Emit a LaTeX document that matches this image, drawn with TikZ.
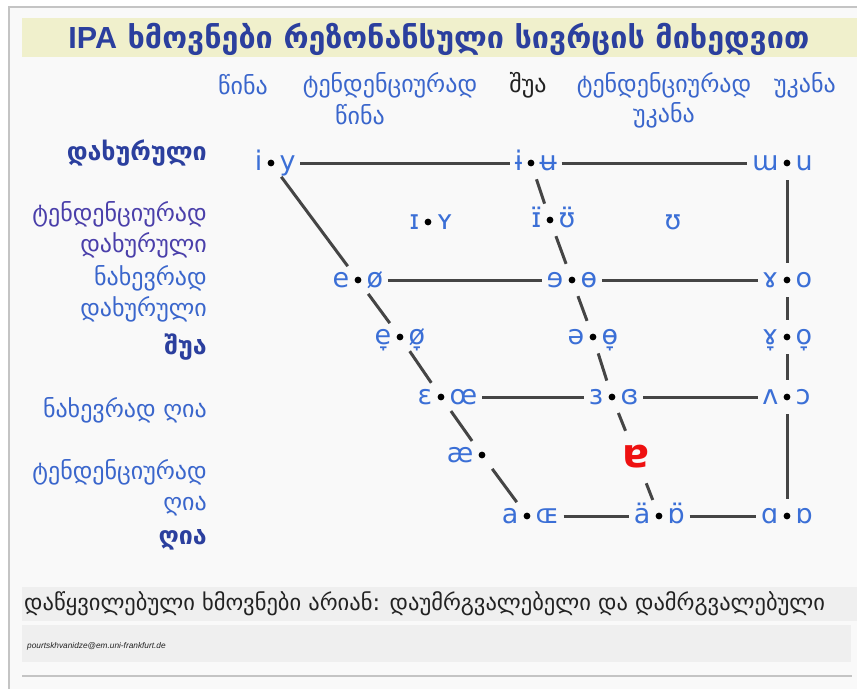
\documentclass[tikz,border=0pt]{standalone}
\usepackage{fontspec}
\setmainfont{DejaVu Sans}
\newfontfamily\latinfont{Liberation Sans}
\usetikzlibrary{calc}

\definecolor{linkblue}{HTML}{3A66CC}
\definecolor{darkblue}{HTML}{2B3F9E}
\definecolor{purpleblue}{HTML}{4A3FAA}
\definecolor{vowelblue}{HTML}{3B6FD6}
\definecolor{edgegray}{HTML}{454545}
\definecolor{titlebg}{HTML}{F0F0CC}
\definecolor{pagebg}{HTML}{F9F9F9}
\definecolor{footbg}{HTML}{EFEFEF}
\definecolor{framegray}{HTML}{C4C4C4}
\definecolor{textdark}{HTML}{222222}
\definecolor{openred}{HTML}{EE1111}

\tikzset{
  vowel/.style={font=\fontsize{27}{30}\selectfont, text=vowelblue, inner xsep=1.5pt, inner ysep=0pt,
    text height=21.6pt, text depth=6.8pt},
  dotnode/.style={circle, minimum size=34pt, inner sep=0pt,
    path picture={\fill[black] (path picture bounding box.center) circle (3.4pt);}},
  edge/.style={draw=edgegray, line width=3pt},
  hedge/.style={edge, shorten >=3pt, shorten <=3pt},
  rowlabel/.style={anchor=east, align=right, inner sep=0pt, text=linkblue,
    font=\fontsize{24}{31}\selectfont},
  rowhead/.style={rowlabel, text=darkblue, font=\bfseries\fontsize{25}{31}\selectfont},
  colhead/.style={align=center, inner sep=0pt, text=linkblue,
    font=\fontsize{24}{30}\selectfont},
}

\newcommand\vpair[5]{%
  \node[dotnode] (#1) at (#2,#3) {};
  \node[vowel, anchor=east] (#1-l) at ([xshift=-7pt]#1.center) {#4};
  \node[vowel, anchor=west] (#1-r) at ([xshift=7pt]#1.center) {#5};
}

\begin{document}
\begin{tikzpicture}[x=1pt,y=-1pt]
  \useasboundingbox (0,0) rectangle (857,689);
  % page and frame
  \fill[white] (0,0) rectangle (857,689);
  \fill[pagebg] (9,7) rectangle (857,689);
  \draw[framegray, line width=1.6pt] (9,689) -- (9,7) -- (857,7);
  \fill[titlebg] (22,18) rectangle (857,57);
  \node[inner sep=0pt, text=darkblue, font=\bfseries\fontsize{30.5}{34}\selectfont]
    (title) at (439,39) {{\latinfont IPA} ხმოვნები რეზონანსული სივრცის მიხედვით};

  % column headers
  \node[colhead] (c1) at (243,85) {წინა};
  \node[colhead] (c2) at (390,85) {ტენდენციურად};
  \node[colhead] (c2b) at (360,115) {წინა};
  \node[colhead, text=textdark] (c3) at (528,85) {შუა};
  \node[colhead] (c4) at (664,85) {ტენდენციურად};
  \node[colhead] (c4b) at (664,115) {უკანა};
  \node[colhead] (c5) at (805,85) {უკანა};

  % row labels
  \node[rowhead] (r1) at (207,153) {დახურული};
  \node[rowlabel, text=purpleblue] (r2) at (207,230) {ტენდენციურად\\დახურული};
  \node[rowlabel] (r3) at (207,294) {ნახევრად\\დახურული};
  \node[rowhead] (r4) at (207,347) {შუა};
  \node[rowlabel] (r5) at (207,410) {ნახევრად ღია};
  \node[rowlabel] (r6) at (207,488) {ტენდენციურად\\ღია};
  \node[rowhead] (r7) at (207,540) {ღია};

  % vowel pairs: unrounded left of the dot, rounded right of it
  \vpair{iy}{271}{163}{i}{y}
  \vpair{iu}{531}{163}{ɨ}{ʉ}
  \vpair{wu}{787}{163}{ɯ}{u}
  \vpair{IY}{428}{222}{ɪ}{ʏ}
  \vpair{IU}{550}{220}{ɪ̈}{ʊ̈}
  \node[vowel] (U) at (673,222) {ʊ};
  \vpair{eo}{358}{280}{e}{ø}
  \vpair{eoc}{572}{280}{ɘ}{ɵ}
  \vpair{ro}{787}{280}{ɤ}{o}
  \vpair{eom}{400}{337}{e̞}{ø̞}
  \vpair{oom}{593}{337}{ə}{ɵ̞}
  \vpair{rom}{787}{337}{ɤ̞}{o̞}
  \vpair{Eoe}{441}{397}{ɛ}{œ}
  \vpair{Bb}{612}{397}{ɜ}{ɞ}
  \vpair{VO}{787}{397}{ʌ}{ɔ}
  \node[dotnode] (ae) at (482,455) {};
  \node[vowel, anchor=east] (ae-l) at ([xshift=-7pt]ae.center) {æ};
  \node[circle, minimum size=56pt, inner sep=0pt, text=openred,
    font=\bfseries\fontsize{40}{44}\selectfont] (6) at (636,457) {ɐ};
  \vpair{aOE}{527}{516}{a}{ɶ}
  \vpair{aob}{659}{516}{ä}{ɒ̈}
  \vpair{AD}{787}{516}{ɑ}{ɒ}

  % horizontal edges
  \foreach \a/\b in {iy/iu, iu/wu, eo/eoc, eoc/ro, Eoe/Bb, Bb/VO, aOE/aob, aob/AD}
    \draw[hedge] (\a-r.east |- \a.center) -- (\b-l.west |- \b.center);
  % front edge
  \foreach \a/\b in {iy/eo, eo/eom, eom/Eoe, Eoe/ae, ae/aOE}
    \draw[edge] (\a) -- (\b);
  % central edge
  \foreach \a/\b in {iu/IU, IU/eoc, eoc/oom, oom/Bb, Bb/6, 6/aob}
    \draw[edge] (\a) -- (\b);
  % back edge
  \foreach \a/\b in {wu/ro, ro/rom, rom/VO, VO/AD}
    \draw[edge] (\a) -- (\b);

  % footer
  \fill[footbg] (22,587) rectangle (857,621);
  \fill[footbg] (22,625) rectangle (851,662);
  \node[anchor=west, inner sep=0pt, text=textdark, font=\fontsize{22.5}{26}\selectfont]
    (note) at (24,604) {დაწყვილებული ხმოვნები არიან: დაუმრგვალებელი და დამრგვალებული};
  \node[anchor=west, inner sep=0pt, text=textdark, font=\latinfont\itshape\fontsize{8.3}{10}\selectfont]
    (mail) at (27,646) {pourtskhvanidze@em.uni-frankfurt.de};
  \draw[framegray, line width=1.4pt] (22,676) -- (852,676);
\end{tikzpicture}
\end{document}
